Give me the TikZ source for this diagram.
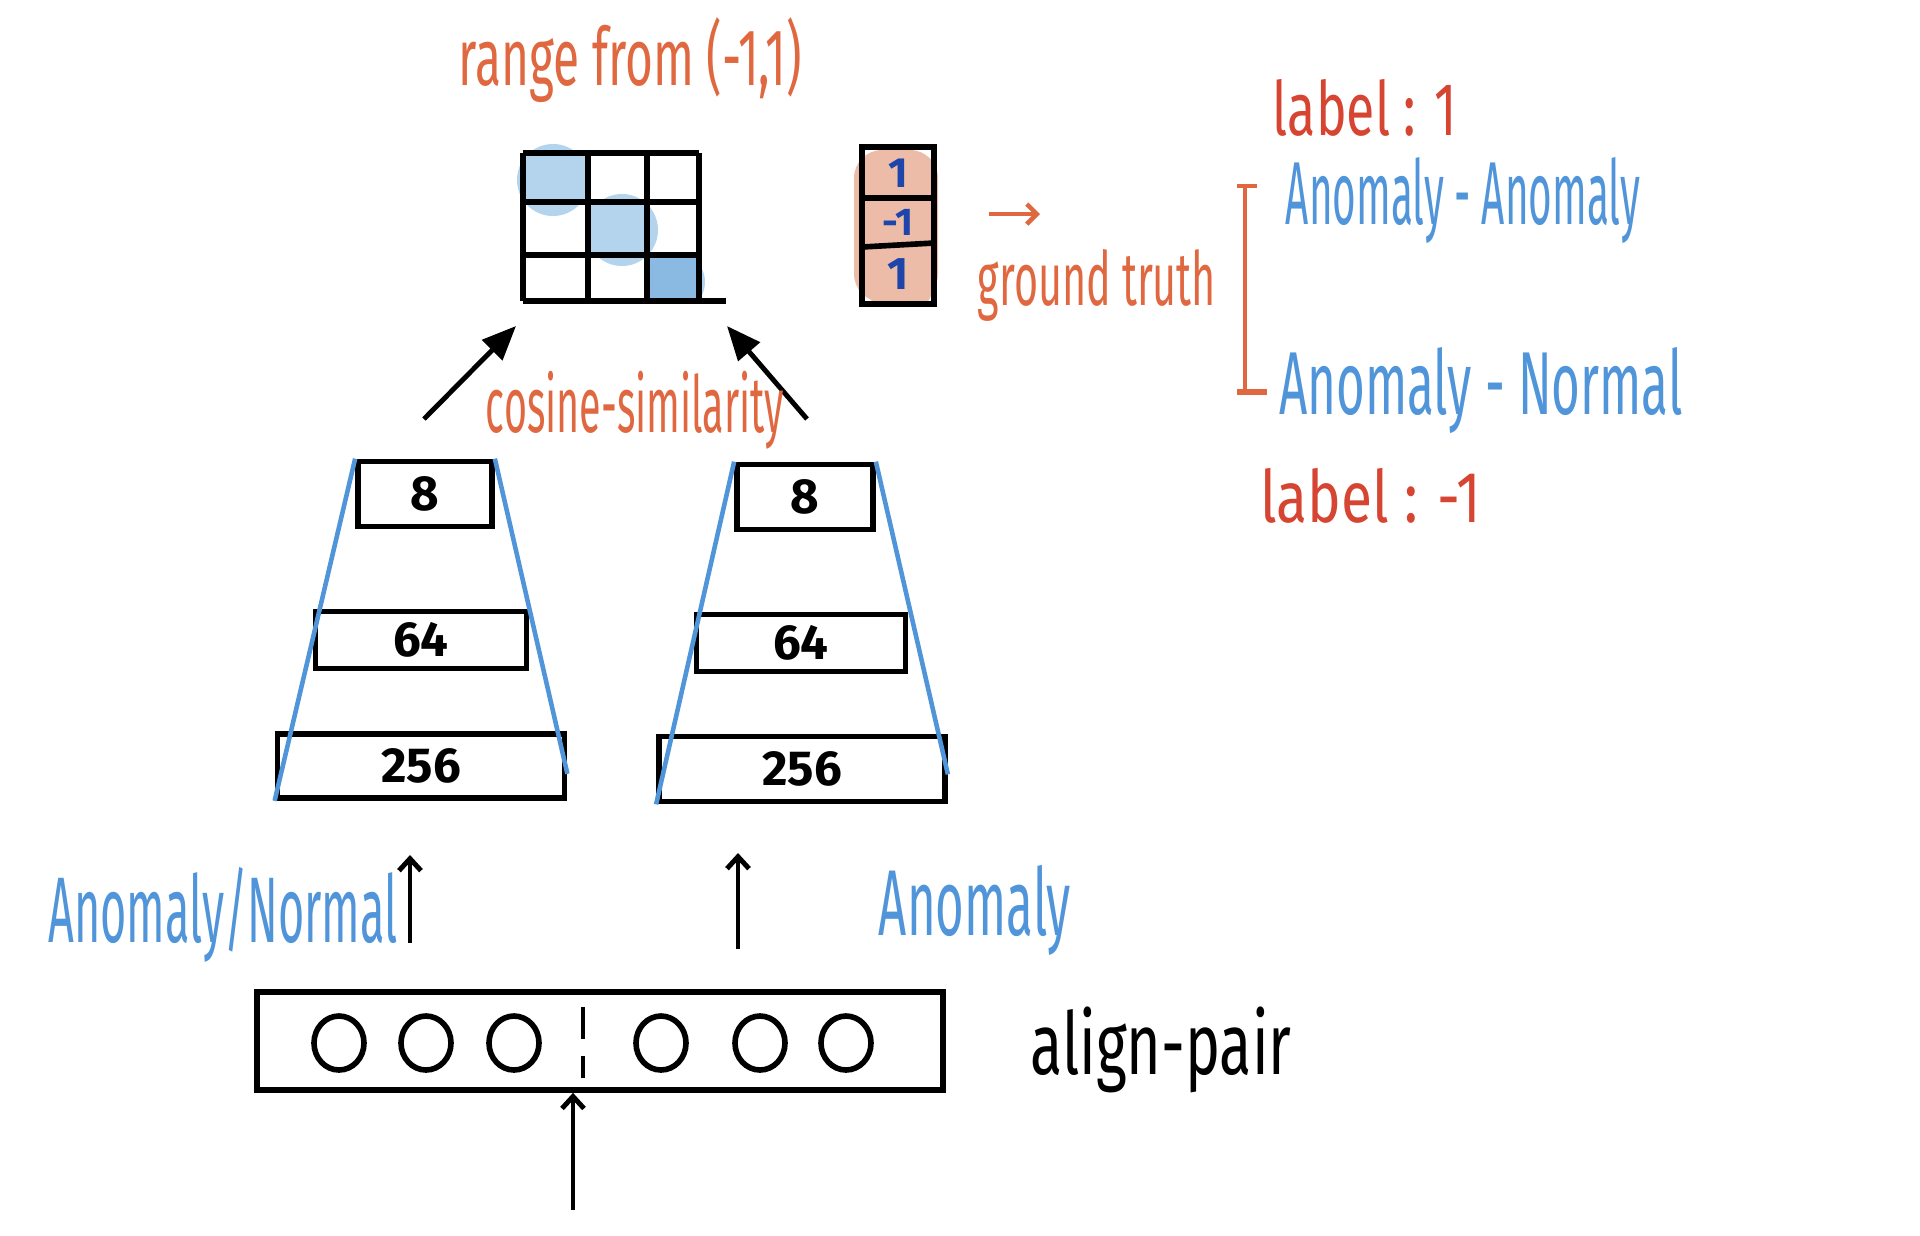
\documentclass[tikz,border=0pt]{standalone}
\usepackage{fontspec}
\setmainfont{Fira Sans}
\usetikzlibrary{arrows.meta,calc}
\definecolor{hOrange}{RGB}{224,104,64}
\definecolor{hRed}{RGB}{214,68,50}
\definecolor{hBlue}{RGB}{80,148,218}
\definecolor{hSalmon}{RGB}{236,188,168}
\definecolor{hLightBlue}{RGB}{180,211,237}
\definecolor{hMidBlue}{RGB}{138,185,226}
\definecolor{hDarkBlue}{RGB}{30,70,170}
\newcommand{\handtext}[3]{\resizebox*{#1}{#2}{#3}}
\begin{document}
\begin{tikzpicture}[x=0.01cm,y=-0.01cm,
  layer/.style={draw=black,line width=1.6pt,inner sep=0pt,font=\fontsize{14}{16}\selectfont\bfseries},
  txt/.style={inner sep=0pt},
  gridline/.style={line width=1.6pt,black},
  bigarrow/.style={line width=1.4pt,-{Triangle[length=0.34cm,width=0.28cm]}},
  uparrow/.style={line width=1.4pt,-{Straight Barb[length=0.12cm,width=0.22cm]}},
  trap/.style={line width=1.3pt,hBlue}]
\useasboundingbox (0,0) rectangle (1920,1235);
% ---------- similarity matrix ----------
\fill[hLightBlue] (523,153) rectangle (588,202);
\fill[hLightBlue] (553,180) circle (36);
\fill[hLightBlue] (588,202) rectangle (647,255);
\fill[hLightBlue] (622,230) circle (36);
\fill[hLightBlue] (675,282) circle (30);
\fill[hMidBlue] (649,258) rectangle (699,301);
\fill[hMidBlue] (680,282) circle (22);
\fill[white] (523,303) rectangle (740,330);
\foreach \x in {523,588,647,699} \draw[gridline] (\x,153) -- (\x,301);
\foreach \y in {153,202,255} \draw[gridline] (523,\y) -- (699,\y);
\draw[gridline] (523,301) -- (726,301);
\node[inner sep=0pt,minimum width=1.76cm,minimum height=1.48cm] (grid) at (611,227) {};
% ---------- label vector ----------
\fill[hSalmon,rounded corners=8pt] (854,150) rectangle (938,302);
\fill[hSalmon] (900,282) circle (34);
\fill[white] (850,306) rectangle (950,330);
\draw[gridline] (862,147) rectangle (934,304);
\draw[gridline] (862,198) -- (934,198);
\draw[gridline] (862,247) -- (934,243);
\node[txt,text=hDarkBlue,font=\fontsize{12}{14}\selectfont\bfseries] (v1) at (898,173) {1};
\node[txt,text=hDarkBlue,font=\fontsize{11}{14}\selectfont\bfseries] (v2) at (898,222) {-1};
\node[txt,text=hDarkBlue,font=\fontsize{13}{14}\selectfont\bfseries] (v3) at (898,274) {1};
% ---------- texts at top / right ----------
\node[txt,text=hOrange] (range) at (630,60) {\handtext{3.43cm}{0.85cm}{range from (-1,1)}};
\node[txt,text=hOrange] (gt) at (1097,285) {\handtext{2.38cm}{0.72cm}{ground truth}};
\coordinate (ga0) at (989,214);
\coordinate (ga1) at (1040,214);
\draw[hOrange,line width=1.3pt,-{Straight Barb[length=0.1cm,width=0.2cm]}] (ga0) -- (ga1);
\node[txt,text=hRed] (lab1) at (1365,108) {\handtext{1.84cm}{0.57cm}{label : 1}};
\node[txt,text=hBlue] (aa) at (1463,200) {\handtext{3.54cm}{0.86cm}{Anomaly - Anomaly}};
\node[txt,text=hBlue] (an) at (1481,390) {\handtext{4.03cm}{0.86cm}{Anomaly - Normal}};
\node[txt,text=hRed] (lab2) at (1371,496) {\handtext{2.21cm}{0.55cm}{label : -1}};
\coordinate (bt) at (1245,186);
\coordinate (bb) at (1245,392);
\draw[hOrange,line width=1.4pt] (bt) -- (bb);
\draw[hOrange,line width=1.4pt] ($(bt)+(-8,0)$) -- ($(bt)+(12,0)$);
\draw[hOrange,line width=1.6pt] ($(bb)+(-8,0)$) -- ($(bb)+(22,0)$);
% ---------- towers ----------
\node[layer,minimum width=1.34cm,minimum height=0.65cm] (l8) at (425,494) {8};
\node[layer,minimum width=2.11cm,minimum height=0.57cm] (l64) at (421,640) {64};
\node[layer,minimum width=2.87cm,minimum height=0.64cm] (l256) at (421,766) {256};
\node[layer,minimum width=1.36cm,minimum height=0.65cm] (r8) at (805,497) {8};
\node[layer,minimum width=2.09cm,minimum height=0.57cm] (r64) at (801,643) {64};
\node[layer,minimum width=2.86cm,minimum height=0.65cm] (r256) at (802,769) {256};
\draw[trap] (l8.north west) -- (l256.south west);
\draw[trap] (l8.north east) -- ($(l256.south east)+(0,-27)$);
\draw[trap] (r8.north west) -- (r256.south west);
\draw[trap] (r8.north east) -- ($(r256.south east)+(0,-30)$);
% ---------- arrows to matrix ----------
\coordinate (la0) at (424,419);
\coordinate (la1) at (516,326);
\coordinate (ra0) at (807,419);
\coordinate (ra1) at (727,326);
\draw[bigarrow] (la0) -- (la1);
\draw[bigarrow] (ra0) -- (ra1);
\node[txt,text=hOrange] (cos) at (635,410) {\handtext{2.98cm}{0.78cm}{cosine-similarity}};
% ---------- input ----------
\node[draw=black,line width=1.6pt,minimum width=6.85cm,minimum height=0.98cm,inner sep=0pt] (inp) at (600,1041) {};
\foreach \x [count=\i] in {339,426,514,661,760,846}
  \draw[line width=1.6pt] (\x,1043) ellipse (25 and 27);
\draw[line width=1.4pt,dash pattern=on 9pt off 5pt] (583,1007) -- (583,1078);
\coordinate (ua0) at (410,943);
\coordinate (ua1) at (410,855);
\coordinate (ub0) at (738,949);
\coordinate (ub1) at (738,853);
\draw[uparrow] (ua0) -- (ua1);
\draw[uparrow] (ub0) -- (ub1);
\coordinate (in0) at (573,1210);
\draw[uparrow] (in0) -- (inp.south -| in0);
\node[txt,text=hBlue] (an2) at (223,915) {\handtext{3.49cm}{0.95cm}{Anomaly/Normal}};
\node[txt,text=hBlue] (an3) at (975,910) {\handtext{1.92cm}{0.9cm}{Anomaly}};
\node[txt,text=black] (ap) at (1161,1050) {\handtext{2.61cm}{0.86cm}{align-pair}};
\end{tikzpicture}
\end{document}
